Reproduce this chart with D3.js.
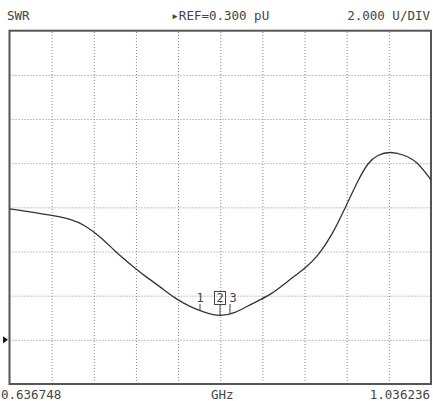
<!DOCTYPE html>
<html><head><meta charset="utf-8">
<script src="https://cdn.jsdelivr.net/npm/d3@7"></script>
<style>html,body{margin:0;padding:0;background:#fff;}svg{display:block;}</style>
</head><body>
<svg id="c" width="433" height="401"></svg>
<script>
const freqGHz = [0.63722,0.65618,0.67665,0.69409,0.70831,0.72252,0.73674,0.75096,0.76517,0.77939,0.79361,0.80782,0.82204,0.83626,0.85047,0.86469,0.88365,0.89976,0.91682,0.92914,0.94241,0.95615,0.96705,0.97653,0.98601,0.99738,1.00969,1.02297,1.03624];
const swr     = [6.228,6.092,5.934,5.753,5.458,4.961,4.327,3.739,3.196,2.698,2.200,1.816,1.544,1.409,1.544,1.884,2.359,2.924,3.558,4.146,5.096,6.409,7.495,8.264,8.648,8.784,8.671,8.309,7.540];
const markerLabels = ["1","2","3"];
const markerFreq = [0.8173,0.83626,0.84573];
const startFreq = 0.636748, stopFreq = 1.036236;
const refValue = 0.300, unitsPerDiv = 2.000, xDivs = 10, yDivs = 8, refDiv = 1;
const headerLeft = "SWR", headerMid = "▸REF=0.300 pU", headerRight = "2.000 U/DIV";
const footLeft = "0.636748", footMid = "GHz", footRight = "1.036236";

const L = 9.5, R = 431, T = 30.7, B = 384;
const svg = d3.select("#c");
const x = d3.scaleLinear().domain([startFreq, stopFreq]).range([L, R]);
const yMin = refValue - refDiv*unitsPerDiv, yMax = yMin + yDivs*unitsPerDiv;
const y = d3.scaleLinear().domain([yMin, yMax]).range([B, T]);

const font = "'DejaVu Sans Mono', monospace";
// grid
const xt = d3.range(1, xDivs).map(i => startFreq + i*(stopFreq-startFreq)/xDivs);
const yt = d3.range(1, yDivs).map(i => yMin + i*unitsPerDiv);
svg.append("g").attr("transform", `translate(0,${B})`)
  .call(d3.axisBottom(x).tickValues(xt).tickSize(-(B-T)).tickFormat(""))
  .call(g => g.select(".domain").remove())
  .call(g => g.selectAll("line").attr("stroke", "#888").attr("stroke-width", 1).attr("stroke-dasharray", "1,2"));
svg.append("g").attr("transform", `translate(${L},0)`)
  .call(d3.axisLeft(y).tickValues(yt).tickSize(-(R-L)).tickFormat(""))
  .call(g => g.select(".domain").remove())
  .call(g => g.selectAll("line").attr("stroke", "#888").attr("stroke-width", 1).attr("stroke-dasharray", "1,2"));

// frame
svg.append("rect").attr("x", L).attr("y", T).attr("width", R-L).attr("height", B-T)
  .attr("fill", "none").attr("stroke", "#555").attr("stroke-width", 2);

// trace
const data = freqGHz.map((f,i) => [f, swr[i]]);
const line = d3.line().x(d => x(d[0])).y(d => y(d[1])).curve(d3.curveNatural);
svg.append("path").datum(data).attr("d", line).attr("fill", "none")
  .attr("stroke", "#333").attr("stroke-width", 1.3);

// markers
const interp = f => {
  for (let i = 0; i < freqGHz.length-1; i++) {
    if (f >= freqGHz[i] && f <= freqGHz[i+1]) {
      const t = (f - freqGHz[i])/(freqGHz[i+1]-freqGHz[i]);
      return swr[i] + t*(swr[i+1]-swr[i]);
    }
  }
  return swr[0];
};
markerLabels.forEach((lab, i) => {
  const mx = x(markerFreq[i]), my = y(interp(markerFreq[i]));
  const ly = 302;
  svg.append("line").attr("x1", mx).attr("x2", mx).attr("y1", ly+2).attr("y2", my)
    .attr("stroke", "#444").attr("stroke-width", 1);
  svg.append("text").attr("x", lab === "3" ? mx + 3 : mx).attr("y", ly).attr("text-anchor", "middle")
    .attr("font-family", font).attr("font-size", 12).attr("fill", "#444").text(lab);
  if (lab === "2") {
    svg.append("rect").attr("x", mx-5.5).attr("y", ly-10.5).attr("width", 11).attr("height", 13)
      .attr("fill", "none").attr("stroke", "#444").attr("stroke-width", 1);
  }
});

// ref marker
const ry = y(refValue);
svg.append("path").attr("d", `M3,${ry-3.5}L8,${ry}L3,${ry+3.5}Z`).attr("fill", "#111");

// texts
const txt = (tx, ty, s, anchor) => svg.append("text").attr("x", tx).attr("y", ty)
  .attr("text-anchor", anchor).attr("font-family", font).attr("font-size", 12.5)
  .attr("fill", "#444").text(s);
txt(7, 20, headerLeft, "start");
txt((L+R)/2, 20, headerMid, "middle");
txt(430, 20, headerRight, "end");
txt(1, 399, footLeft, "start");
txt((L+R)/2 + 2, 399, footMid, "middle");
txt(430, 399, footRight, "end");
</script>
</body></html>
